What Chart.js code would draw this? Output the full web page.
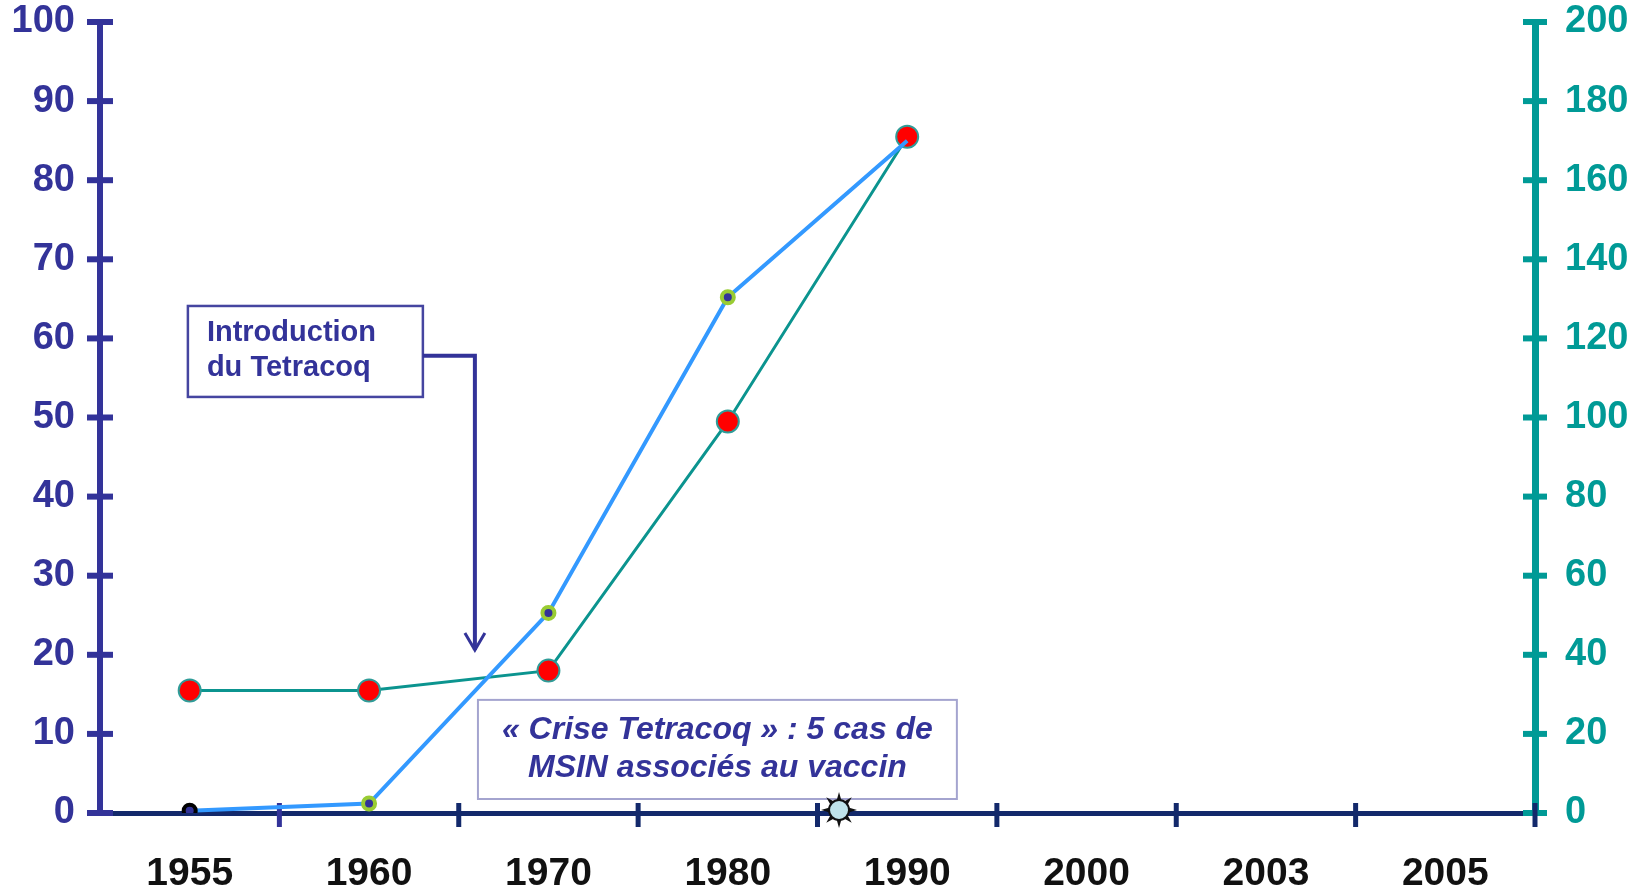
<!DOCTYPE html>
<html>
<head>
<meta charset="utf-8">
<script src="https://cdn.jsdelivr.net/npm/chart.js@4.4.0/dist/chart.umd.min.js"></script>
<style>
  body { margin: 0; background: #fff; }
  #wrap { width: 1645px; height: 891px; }
</style>
</head>
<body>
<div id="wrap"><canvas id="chart" width="1645" height="891"></canvas></div>
<script>
// data
const years = ["1955", "1960", "1970", "1980", "1990", "2000", "2003", "2005"];
const blueValues = [0.3, 1.2, 25.3, 65.2, 85, null, null, null];   // left axis
const tealValues = [31, 31, 36, 99, 171, null, null, null];         // right axis
const leftMax = 100, leftStep = 10;
const rightMax = 200, rightStep = 20;
const introLines = ["Introduction", "du Tetracoq"];
const criseLines = ["\u00AB Crise Tetracoq \u00BB : 5 cas de", "MSIN associ\u00E9s au vaccin"];

const PURPLE = "#333399";
const TEAL = "#009a96";
const NAVY = "#13296b";
const FONT = '"Liberation Sans", Arial, sans-serif';

function seg(ctx, x1, y1, x2, y2) {
  ctx.beginPath();
  ctx.moveTo(x1, y1);
  ctx.lineTo(x2, y2);
  ctx.stroke();
}

// ticks crossing the axis lines
const axisTicks = {
  id: "axisTicks",
  beforeDatasetsDraw(chart) {
    const ctx = chart.ctx;
    const x = chart.scales.x, yl = chart.scales.y, yr = chart.scales.y1;
    ctx.save();
    ctx.lineCap = "butt";
    ctx.lineWidth = 6;
    ctx.strokeStyle = PURPLE;
    yl.ticks.forEach((t, i) => {
      const py = yl.getPixelForTick(i);
      seg(ctx, yl.right - 13, py, yl.right + 13, py);
    });
    ctx.strokeStyle = TEAL;
    yr.ticks.forEach((t, i) => {
      const py = yr.getPixelForTick(i);
      seg(ctx, yr.left - 12, py, yr.left + 12, py);
    });
    ctx.lineWidth = 5;
    for (let i = 1; i <= years.length; i++) {
      const px = x.getPixelForValue(i - 0.5);
      ctx.strokeStyle = i === 1 ? PURPLE : NAVY;
      seg(ctx, px, x.top - 10, px, x.top + 14);
    }
    ctx.restore();
  }
};

// text boxes, arrow and the little sun on the axis
const notes = {
  id: "notes",
  afterDraw(chart) {
    const ctx = chart.ctx;
    const x = chart.scales.x, y = chart.scales.y;
    const X = v => x.getPixelForValue(v);
    const Y = v => y.getPixelForValue(v);
    ctx.save();

    // Introduction du Tetracoq
    const b0 = X(-0.01), b1 = X(1.3), t0 = Y(64.1), t1 = Y(52.6);
    ctx.fillStyle = "#fff";
    ctx.fillRect(b0, t0, b1 - b0, t1 - t0);
    ctx.strokeStyle = "#4545a0";
    ctx.lineWidth = 2.5;
    ctx.strokeRect(b0, t0, b1 - b0, t1 - t0);
    ctx.fillStyle = PURPLE;
    ctx.font = "bold 29px " + FONT;
    ctx.textBaseline = "middle";
    ctx.textAlign = "left";
    ctx.fillText(introLines[0], b0 + 19, t0 + 27);
    ctx.fillText(introLines[1], b0 + 19, t0 + 62);

    const ay = Y(57.8), ax = X(1.59), tip = Y(20.6);
    ctx.strokeStyle = PURPLE;
    ctx.lineWidth = 4;
    ctx.lineJoin = "miter";
    ctx.beginPath();
    ctx.moveTo(b1, ay);
    ctx.lineTo(ax, ay);
    ctx.lineTo(ax, tip);
    ctx.stroke();
    ctx.lineWidth = 3;
    ctx.beginPath();
    ctx.moveTo(ax - 10, tip - 17);
    ctx.lineTo(ax, tip);
    ctx.lineTo(ax + 10, tip - 17);
    ctx.stroke();

    // Crise Tetracoq
    const c0 = X(1.607), c1 = X(4.277), u0 = Y(14.3), u1 = Y(1.77);
    ctx.fillStyle = "#fff";
    ctx.fillRect(c0, u0, c1 - c0, u1 - u0);
    ctx.strokeStyle = "#a4a4cf";
    ctx.lineWidth = 2;
    ctx.strokeRect(c0, u0, c1 - c0, u1 - u0);
    ctx.fillStyle = PURPLE;
    ctx.font = "italic bold 32px " + FONT;
    ctx.textAlign = "center";
    const cx = (c0 + c1) / 2;
    ctx.fillText(criseLines[0], cx, u0 + 30);
    ctx.fillText(criseLines[1], cx, u0 + 68);

    // sun
    const sx = X(3.62), sy = x.top - 3;
    ctx.fillStyle = "#111";
    for (let k = 0; k < 8; k++) {
      const a = k * Math.PI / 4 - Math.PI / 2;
      ctx.beginPath();
      ctx.moveTo(sx + Math.cos(a) * 18, sy + Math.sin(a) * 18);
      ctx.lineTo(sx + Math.cos(a + 0.3) * 9, sy + Math.sin(a + 0.3) * 9);
      ctx.lineTo(sx + Math.cos(a - 0.3) * 9, sy + Math.sin(a - 0.3) * 9);
      ctx.closePath();
      ctx.fill();
    }
    ctx.beginPath();
    ctx.arc(sx, sy, 10, 0, Math.PI * 2);
    ctx.fillStyle = "#bfe3ea";
    ctx.fill();
    ctx.lineWidth = 2;
    ctx.strokeStyle = "#111";
    ctx.stroke();

    ctx.restore();
  }
};

new Chart(document.getElementById("chart"), {
  type: "line",
  data: {
    labels: years,
    datasets: [
      {
        label: "left",
        data: blueValues,
        yAxisID: "y",
        borderColor: "#3399ff",
        borderWidth: 4,
        pointRadius: [6, 6, 6, 6, 0, 0, 0, 0],
        pointBackgroundColor: PURPLE,
        pointBorderColor: ["#000", "#99cc33", "#99cc33", "#99cc33", "#99cc33", "#99cc33", "#99cc33", "#99cc33"],
        pointBorderWidth: 4,
        tension: 0,
        spanGaps: false
      },
      {
        label: "right",
        data: tealValues,
        yAxisID: "y1",
        borderColor: "#0b948f",
        borderWidth: 3,
        pointRadius: 11,
        pointBackgroundColor: "#ff0000",
        pointBorderColor: "#2f9c98",
        pointBorderWidth: 2,
        tension: 0
      }
    ]
  },
  options: {
    responsive: false,
    animation: false,
    layout: { padding: { top: 0, left: 0, right: 0, bottom: 0 } },
    plugins: { legend: { display: false }, tooltip: { enabled: false } },
    scales: {
      x: {
        offset: true,
        grid: { display: false, drawTicks: false },
        border: { display: true, color: NAVY, width: 5 },
        ticks: {
          color: "#111",
          font: { family: FONT, size: 39, weight: "bold" },
          padding: 38,
          maxRotation: 0,
          autoSkip: false
        },
        afterFit(s) { s.height = 78; }
      },
      y: {
        position: "left",
        min: 0,
        max: leftMax,
        grid: { display: false, drawTicks: false },
        border: { display: true, color: PURPLE, width: 6 },
        ticks: {
          stepSize: leftStep,
          color: PURPLE,
          font: { family: FONT, size: 38, weight: "bold" },
          padding: 25
        },
        afterFit(s) { s.width = 100; s.paddingTop = 22; s.paddingBottom = 0; }
      },
      y1: {
        position: "right",
        min: 0,
        max: rightMax,
        grid: { display: false, drawTicks: false },
        border: { display: true, color: TEAL, width: 7 },
        ticks: {
          stepSize: rightStep,
          color: TEAL,
          font: { family: FONT, size: 38, weight: "bold" },
          padding: 30
        },
        afterFit(s) { s.width = 110; s.paddingTop = 22; s.paddingBottom = 0; }
      }
    }
  },
  plugins: [axisTicks, notes]
});
</script>
</body>
</html>
